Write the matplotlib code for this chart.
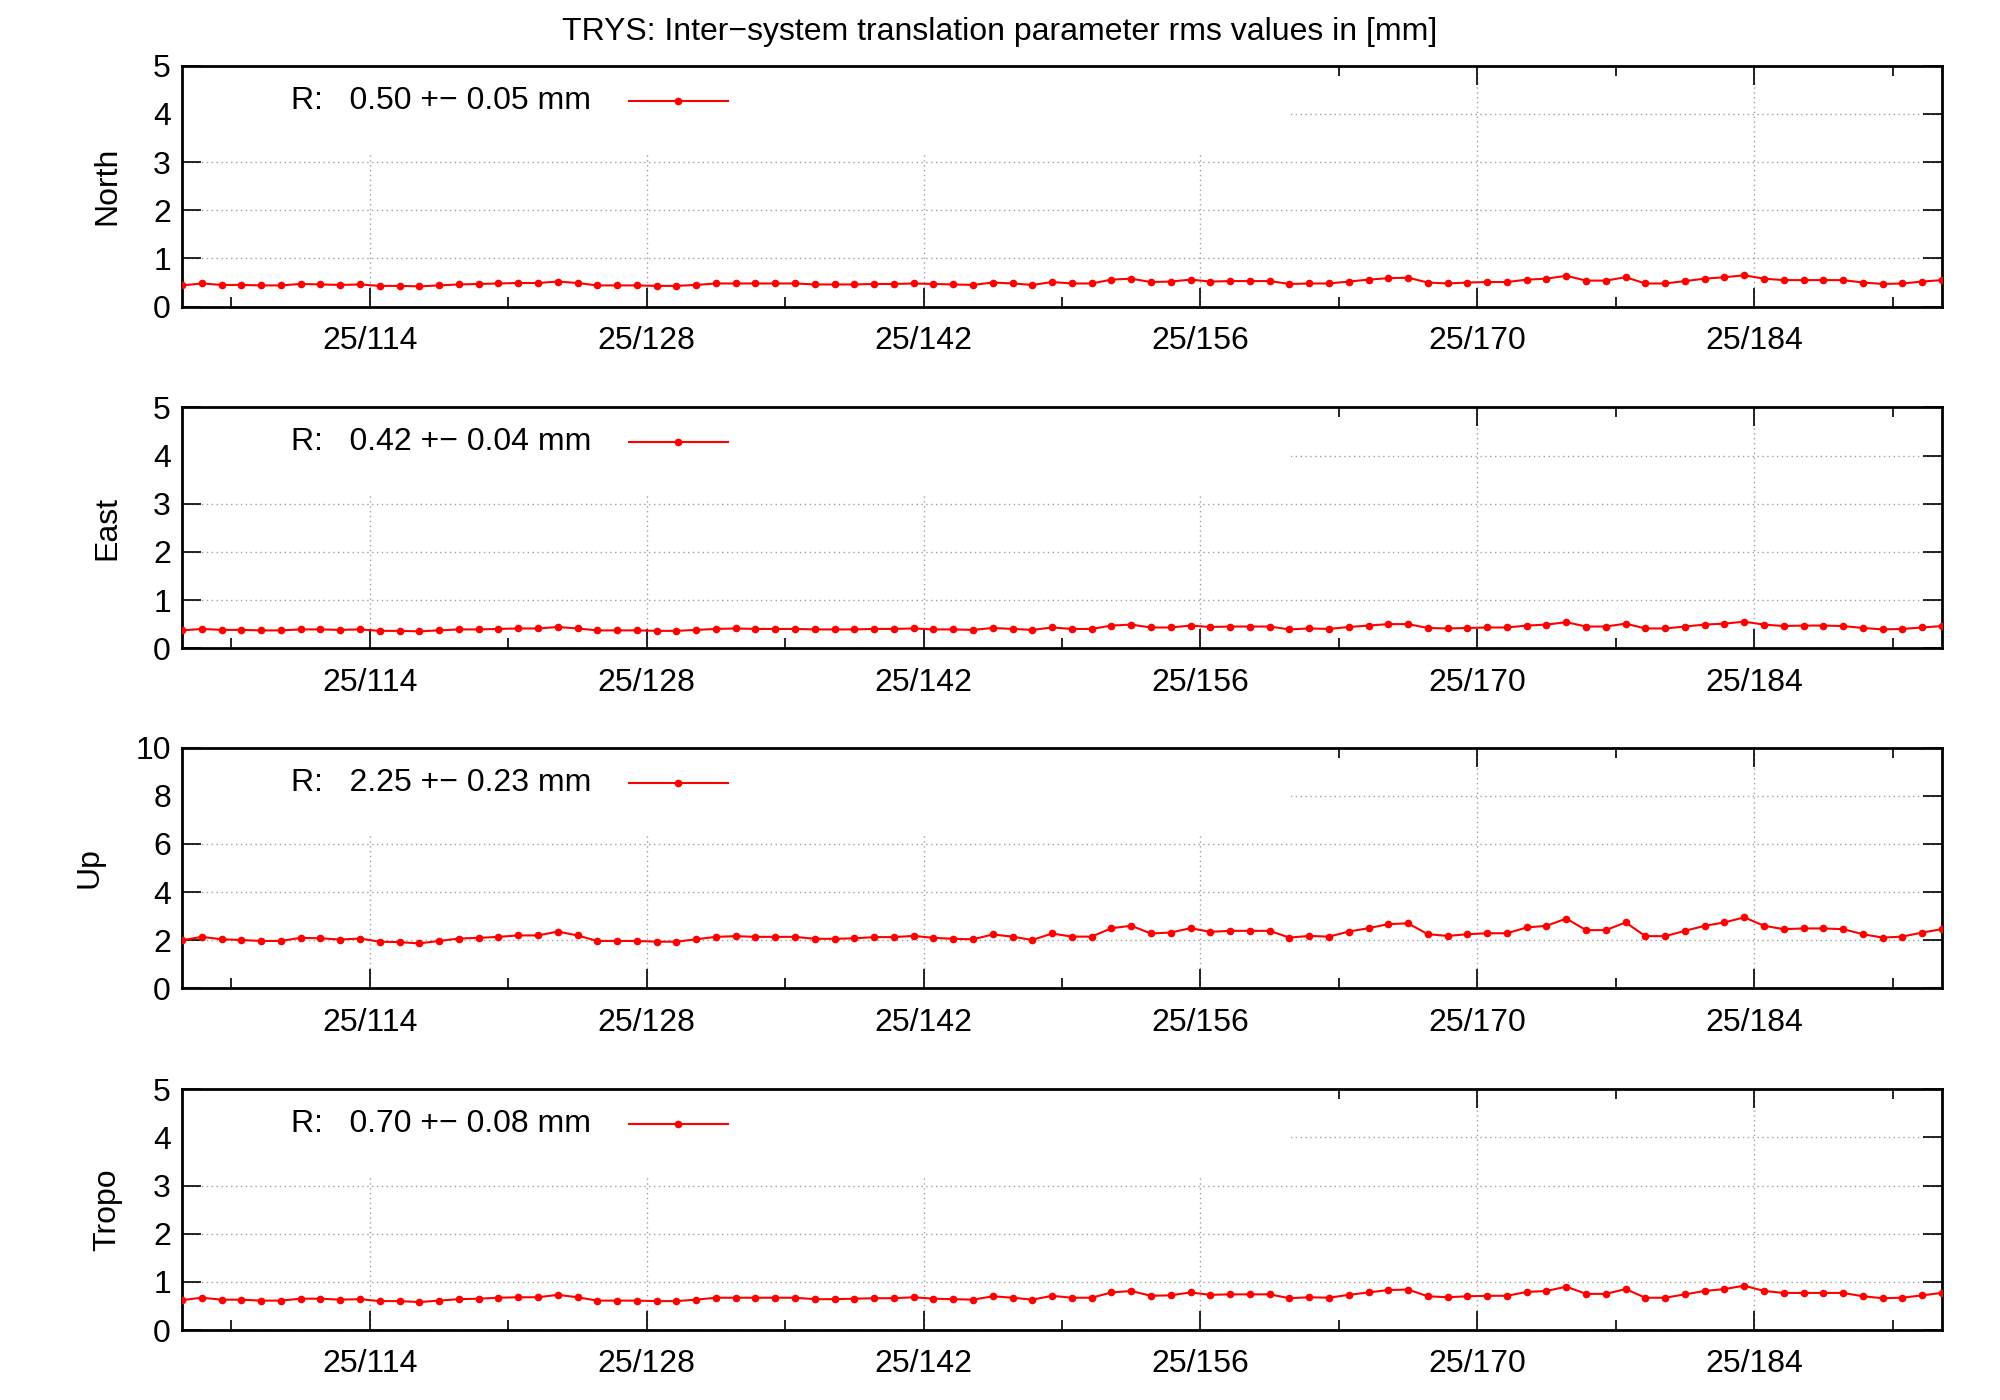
import numpy as np
import matplotlib
matplotlib.use("Agg")
import matplotlib.pyplot as plt
from matplotlib.ticker import FixedLocator, MultipleLocator
from matplotlib.patches import Rectangle

days = np.arange(104.5, 194.0, 1.0)
tick_days = [114, 128, 142, 156, 170, 184]
tick_labels = ["25/%d" % d for d in tick_days]

north = [0.44,0.48,0.45,0.45,0.44,0.44,0.47,0.46,0.45,0.46,
0.43,0.43,0.42,0.44,0.46,0.47,0.48,0.49,0.49,0.52,
0.49,0.44,0.44,0.44,0.43,0.43,0.45,0.48,0.48,0.48,
0.48,0.48,0.46,0.46,0.46,0.47,0.47,0.48,0.47,0.46,
0.45,0.50,0.48,0.45,0.51,0.48,0.48,0.56,0.58,0.51,
0.52,0.56,0.52,0.53,0.53,0.53,0.47,0.48,0.48,0.52,
0.56,0.59,0.60,0.50,0.48,0.50,0.51,0.51,0.56,0.58,
0.64,0.54,0.54,0.61,0.48,0.48,0.53,0.58,0.61,0.65,
0.58,0.55,0.55,0.55,0.55,0.50,0.47,0.48,0.52,0.55]
east = [0.37,0.40,0.38,0.38,0.37,0.37,0.39,0.39,0.38,0.39,
0.36,0.36,0.35,0.37,0.39,0.39,0.40,0.41,0.41,0.44,
0.41,0.37,0.37,0.37,0.36,0.36,0.38,0.40,0.41,0.40,
0.40,0.40,0.39,0.39,0.39,0.40,0.40,0.41,0.39,0.39,
0.38,0.42,0.40,0.38,0.43,0.40,0.40,0.47,0.49,0.43,
0.43,0.47,0.44,0.45,0.45,0.45,0.39,0.41,0.40,0.44,
0.47,0.50,0.50,0.42,0.41,0.42,0.43,0.43,0.47,0.49,
0.54,0.45,0.45,0.51,0.41,0.41,0.45,0.49,0.51,0.55,
0.49,0.46,0.47,0.47,0.46,0.42,0.39,0.40,0.43,0.46]
up = [2.00,2.14,2.04,2.01,1.97,1.97,2.10,2.08,2.03,2.07,
1.94,1.92,1.87,1.97,2.07,2.10,2.14,2.20,2.20,2.36,
2.20,1.97,1.97,1.97,1.94,1.94,2.04,2.14,2.17,2.14,
2.14,2.14,2.06,2.06,2.08,2.13,2.13,2.18,2.10,2.06,
2.04,2.24,2.15,2.01,2.28,2.15,2.15,2.50,2.60,2.28,
2.32,2.50,2.35,2.39,2.39,2.39,2.11,2.18,2.15,2.36,
2.50,2.67,2.70,2.25,2.18,2.25,2.29,2.29,2.53,2.60,
2.90,2.42,2.42,2.74,2.17,2.17,2.39,2.60,2.74,2.95,
2.60,2.46,2.49,2.49,2.46,2.25,2.11,2.15,2.32,2.46]
tropo = [0.62,0.67,0.63,0.63,0.61,0.61,0.65,0.65,0.63,0.64,
0.60,0.60,0.58,0.61,0.64,0.65,0.67,0.68,0.68,0.73,
0.68,0.61,0.61,0.61,0.60,0.60,0.63,0.67,0.67,0.67,
0.67,0.67,0.64,0.64,0.65,0.66,0.66,0.68,0.65,0.64,
0.63,0.70,0.67,0.63,0.71,0.67,0.67,0.78,0.81,0.71,
0.72,0.78,0.73,0.74,0.74,0.74,0.66,0.68,0.67,0.73,
0.78,0.83,0.84,0.70,0.68,0.70,0.71,0.71,0.79,0.81,
0.90,0.75,0.75,0.85,0.67,0.67,0.74,0.81,0.85,0.92,
0.81,0.77,0.77,0.77,0.77,0.70,0.66,0.67,0.72,0.77]

panels = ["North", "East", "Up", "Tropo"]
series = [north, east, up, tropo]
legends = ["R:   0.50 +\u2212 0.05 mm", "R:   0.42 +\u2212 0.04 mm",
           "R:   2.25 +\u2212 0.23 mm", "R:   0.70 +\u2212 0.08 mm"]
ymaxs = [5, 5, 10, 5]
ysteps = [1, 1, 2, 1]

plt.rcParams['font.family'] = ['Liberation Sans', 'DejaVu Sans']
FS = 23
fig = plt.figure(figsize=(20, 14), dpi=100)
fig.text(0.5, 0.977, "TRYS: Inter\u2212system translation parameter rms values in [mm]",
         ha="center", va="center", fontsize=FS)

bottoms = [0.781, 0.537, 0.294, 0.050]
height = 0.172
left, width = 0.091, 0.880
for i in range(4):
    ax = fig.add_axes([left, bottoms[i], width, height])
    ax.set_xlim(days[0], days[-1])
    ax.set_ylim(0, ymaxs[i])
    ax.yaxis.set_major_locator(MultipleLocator(ysteps[i]))
    ax.xaxis.set_major_locator(FixedLocator(tick_days))
    ax.xaxis.set_minor_locator(FixedLocator([107, 121, 135, 149, 163, 177, 191]))
    ax.set_xticklabels(tick_labels)
    ax.tick_params(direction="in", which="both", top=True, right=True,
                   labelsize=FS)
    ax.tick_params(axis="x", pad=14)
    ax.tick_params(axis="y", pad=8)
    ax.tick_params(which="major", length=14, width=1.2)
    ax.tick_params(which="minor", length=7, width=1.2)
    ax.grid(True, which="major", color="#a0a0a0", linestyle=(0, (1, 2.5)), linewidth=1.0)
    for s in ax.spines.values():
        s.set_linewidth(2)
    ax.add_patch(Rectangle((0, 0.64), 0.63, 0.36, transform=ax.transAxes,
                           facecolor="white", edgecolor="none", zorder=2))
    ax.plot(days, series[i], color="red", marker="o", markersize=4.5,
            linewidth=1.5, zorder=3)
    ax.set_ylabel(panels[i], fontsize=FS, labelpad=22)
    ax.text(0.062, 0.855, legends[i], transform=ax.transAxes, fontsize=FS,
            va="center", ha="left", zorder=4)
    ax.plot([0.254, 0.31], [0.855, 0.855], transform=ax.transAxes, color="red",
            linewidth=1.5, zorder=4)
    ax.plot([0.282], [0.855], transform=ax.transAxes, color="red", marker="o",
            markersize=4.5, zorder=4)

fig.savefig("out.png", dpi=100)
